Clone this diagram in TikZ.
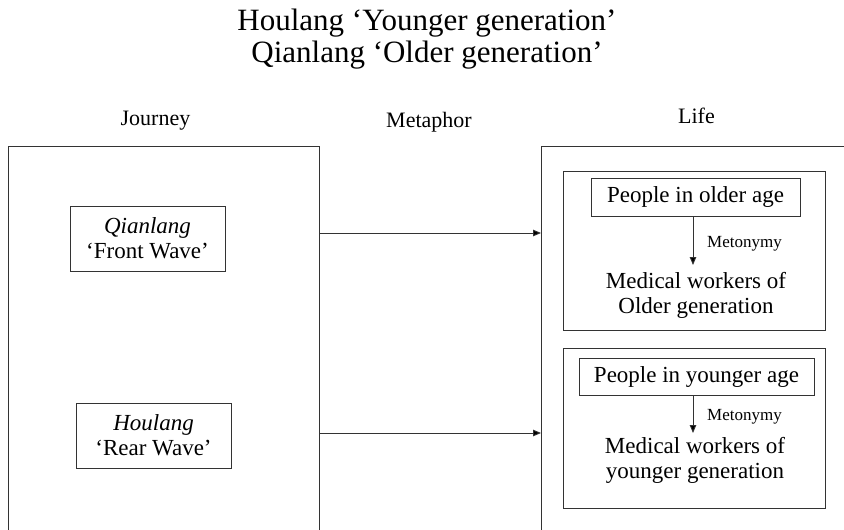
\documentclass[tikz,border=0pt]{standalone}
\usepackage{fontspec}
\setmainfont{Liberation Serif}
\usetikzlibrary{arrows.meta}
\tikzset{
  ln/.style={draw=black!80, line width=0.9pt},
  box/.style={ln, rectangle, inner sep=0pt, align=center},
  big/.style={box, anchor=north west},
  txt/.style={font=\fontsize{23}{25}\selectfont},
  head/.style={font=\fontsize{22}{24}\selectfont, anchor=base, inner sep=0pt},
  small/.style={font=\fontsize{17}{19}\selectfont, anchor=base west, inner sep=0pt},
  arr/.style={ln, -{Triangle[length=8pt,width=6.5pt,fill=black]}},
}
\begin{document}
\begin{tikzpicture}[x=1pt, y=-1pt]
\useasboundingbox (0,0) rectangle (844,530);
\clip (0,0) rectangle (844,530);

% title
\node[align=center, inner sep=0pt, font=\fontsize{31}{32}\selectfont] (title) at (427,39)
  {Houlang ‘Younger generation’\\Qianlang ‘Older generation’};

% column headings
\node[head] (jhead) at (155.5,125) {Journey};
\node[head] (mhead) at (429,127) {Metaphor};
\node[head] (lhead) at (696.5,123) {Life};

% source and target domains (open at the bottom edge)
\node[big, minimum width=311, minimum height=420] (jbox) at (8,146) {};
\node[big, minimum width=330, minimum height=420] (lbox) at (541,146) {};

% source terms
\node[box, txt, minimum width=155, minimum height=65] (qian) at (147.5,238.5)
  {\textit{Qianlang}\\‘Front Wave’};
\node[box, txt, minimum width=155, minimum height=65] (hou) at (153.5,435.5)
  {\textit{Houlang}\\‘Rear Wave’};

% target groups
\node[box, minimum width=262, minimum height=159, anchor=north west] (g1) at (563,171) {};
\node[box, minimum width=262, minimum height=160, anchor=north west] (g2) at (563,348) {};

\node[box, txt, minimum width=209, minimum height=38] (p1) at (695.5,197) {People in older age};
\node[box, txt, minimum width=235, minimum height=37] (p2) at (696.5,377) {People in younger age};

\node[txt, align=center, inner sep=0pt] (m1) at (696,295) {Medical workers of\\Older generation};
\node[txt, align=center, inner sep=0pt] (m2) at (695,460) {Medical workers of\\younger generation};

\coordinate (t1) at (p1.south -| 693,0);
\coordinate (t2) at (p2.south -| 693,0);
\coordinate (e1) at (693,265);
\coordinate (e2) at (693,433);
\draw[arr] (t1) -- (e1);
\draw[arr] (t2) -- (e2);
\node[small] (mt1) at (707,247) {Metonymy};
\node[small] (mt2) at (707,420) {Metonymy};

% metaphor mappings
\coordinate (a1) at (jbox.east |- 0,233);
\coordinate (b1) at (lbox.west |- 0,233);
\coordinate (a2) at (jbox.east |- 0,433);
\coordinate (b2) at (lbox.west |- 0,433);
\draw[arr] (a1) -- (b1);
\draw[arr] (a2) -- (b2);
\end{tikzpicture}
\end{document}
